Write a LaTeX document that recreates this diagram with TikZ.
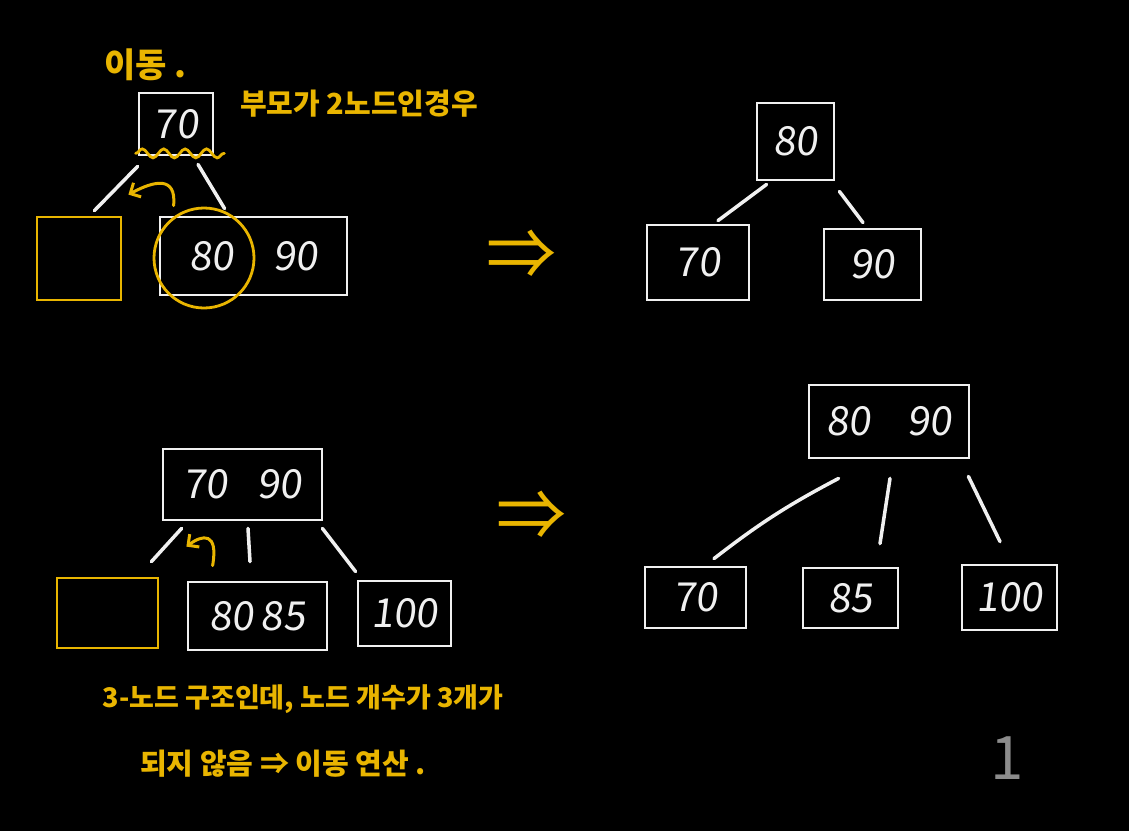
\documentclass[tikz,border=0pt]{standalone}
\usepackage{fontspec}
\newfontfamily\krfont{Noto Sans CJK KR}
\newfontfamily\handfont[FakeSlant=0.12]{Noto Sans CJK KR}
\usepackage{tikz}
\usetikzlibrary{calc,arrows.meta}
\usetikzlibrary{decorations.pathmorphing}
\definecolor{bt-note}{HTML}{E9B500}
\definecolor{bt-line}{HTML}{F0F0F0}
\definecolor{bt-page}{HTML}{8C8C8C}
\tikzset{basic/.style={line width=2.8pt,inner sep=0pt}}
\tikzset{box/.style={basic,draw=bt-line,text=bt-line,font=\handfont\fontsize{40}{40}\selectfont}}

\begin{document}
\begin{tikzpicture}[
    x=1pt, y=-1pt,
    font=\krfont,
    >=Stealth
  ]

  % Global Style Definitions
  \tikzset{
    slot/.style={basic, draw=bt-note},
    ring/.style={basic, draw=bt-note, circle},
    branch/.style={draw=bt-line, line width=3.5pt, line cap=round},
    note/.style={text=bt-note, font=\krfont\bfseries\fontsize{#1}{#1}\selectfont},
    moveline/.style={draw=bt-note, line width=3pt, line cap=round, -{Straight Barb[length=8pt,width=16pt]}},
    wave/.style={draw=bt-note, line width=2.8pt, line cap=round, decorate, decoration={snake, amplitude=4.5pt, segment length=21.4pt}}
  }

  % page
  \useasboundingbox (0,0) rectangle (1129,831);
  \fill[black] (0,0) rectangle (1129,831);

  % Upper left: parent is a 2-node
  \node (p1) [box, minimum width=74pt, minimum height=62pt] at (176,124) {70};
  \node (e1) [slot, minimum width=84pt, minimum height=83pt] at (79,258.5) {};
  \node (r1) [box, minimum width=187pt, minimum height=78pt] at (253.5,256) {80\hspace{40pt}90};
  \node (pick) [ring, minimum size=100pt] at (204,258) {};

  \draw[branch] ($(p1.south west)+(0,10)$) -- ($(e1.north east)+(-28,-5)$);
  \draw[branch] ($(p1.south)+(22,8)$) -- ($(r1.north west)+(66,-7)$);
  \draw[wave] ($(p1.south west)+(-2,-3)$) -- ($(p1.south east)+(10,-3)$);

  \coordinate (mv1a) at ($(r1.north west)+(15,-10)$);
  \coordinate (mv1b) at ($(e1.north east)+(6,-21)$);
  \draw[moveline] (mv1a) .. controls +(3,-30) and +(26,-14) .. (mv1b);

  \node (t1) [note=34, anchor=west] at (101,65) {이동 .};
  \node (t2) [note=29] at (359,104) {부모가 2노드인경우};
  \node (go1) [text=bt-note, font=\krfont\fontsize{70}{70}\selectfont] at (521,255) {⇒};

  % Upper right: after the move
  \node (q1) [box, minimum width=77pt, minimum height=77pt] at (795.5,141.5) {80};
  \node (q2) [box, minimum width=102pt, minimum height=75pt] at (698,262.5) {70};
  \node (q3) [box, minimum width=97pt, minimum height=71pt] at (872.5,264.5) {90};

  \draw[branch] ($(q1.south west)+(11,3)$) -- ($(q2.north)+(20,-3)$);
  \draw[branch] ($(q1.south east)+(4,10)$) -- ($(q3.north)+(-9.5,-5)$);

  % Lower left: parent is a 3-node
  \node (s1) [box, minimum width=159pt, minimum height=71pt] at (242.5,484.5) {70\hspace{30pt}90};
  \node (s2) [slot, minimum width=101pt, minimum height=70pt] at (107.5,613) {};
  \node (s3) [box, minimum width=139pt, minimum height=68pt] at (257.5,616) {80\,85};
  \node (s4) [box, minimum width=93pt, minimum height=65pt] at (404.5,613.5) {100};

  \draw[branch] ($(s1.south west)+(20,7)$) -- ($(s2.north east)+(-8,-15)$);
  \draw[branch] ($(s1.south)+(5.5,7)$) -- ($(s3.north)+(-7.5,-19)$);
  \draw[branch] ($(s1.south east)+(-1,7)$) -- ($(s4.north west)+(-1,-8)$);

  \coordinate (mv2a) at ($(s3.north west)+(26,-15)$);
  \coordinate (mv2b) at ($(s2.north east)+(27,-30)$);
  \draw[moveline] (mv2a) .. controls +(6,-34) and +(16,-12) .. (mv2b);

  \node (t3) [note=27] at (303,699) {3-노드 구조인데, 노드 개수가 3개가};
  \node (t4) [note=29] at (283,764) {되지 않음 ⇒ 이동 연산 .};
  \node (go2) [text=bt-note, font=\krfont\fontsize{70}{70}\selectfont] at (531,516) {⇒};

  % Lower right: after the move
  \node (u1) [box, minimum width=160pt, minimum height=73pt] at (889,421.5) {80\hspace{36pt}90};
  \node (u2) [box, minimum width=101pt, minimum height=61pt] at (695.5,597.5) {70};
  \node (u3) [box, minimum width=95pt, minimum height=60pt] at (850.5,598) {85};
  \node (u4) [box, minimum width=95pt, minimum height=65pt] at (1009.5,597.5) {100};

  \draw[branch] ($(u1.south west)+(31,19)$) to[bend right=5] ($(u2.north)+(18.5,-7)$);
  \draw[branch] ($(u1.south)+(1,19)$) -- ($(u3.north)+(29.5,-23)$);
  \draw[branch] ($(u1.south east)+(-2,17)$) -- ($(u4.north)+(-9.5,-22)$);

  \node (pageno) [text=bt-page, font=\krfont\fontsize{60}{60}\selectfont] at (1007,758) {1};

\end{tikzpicture}
\end{document}
